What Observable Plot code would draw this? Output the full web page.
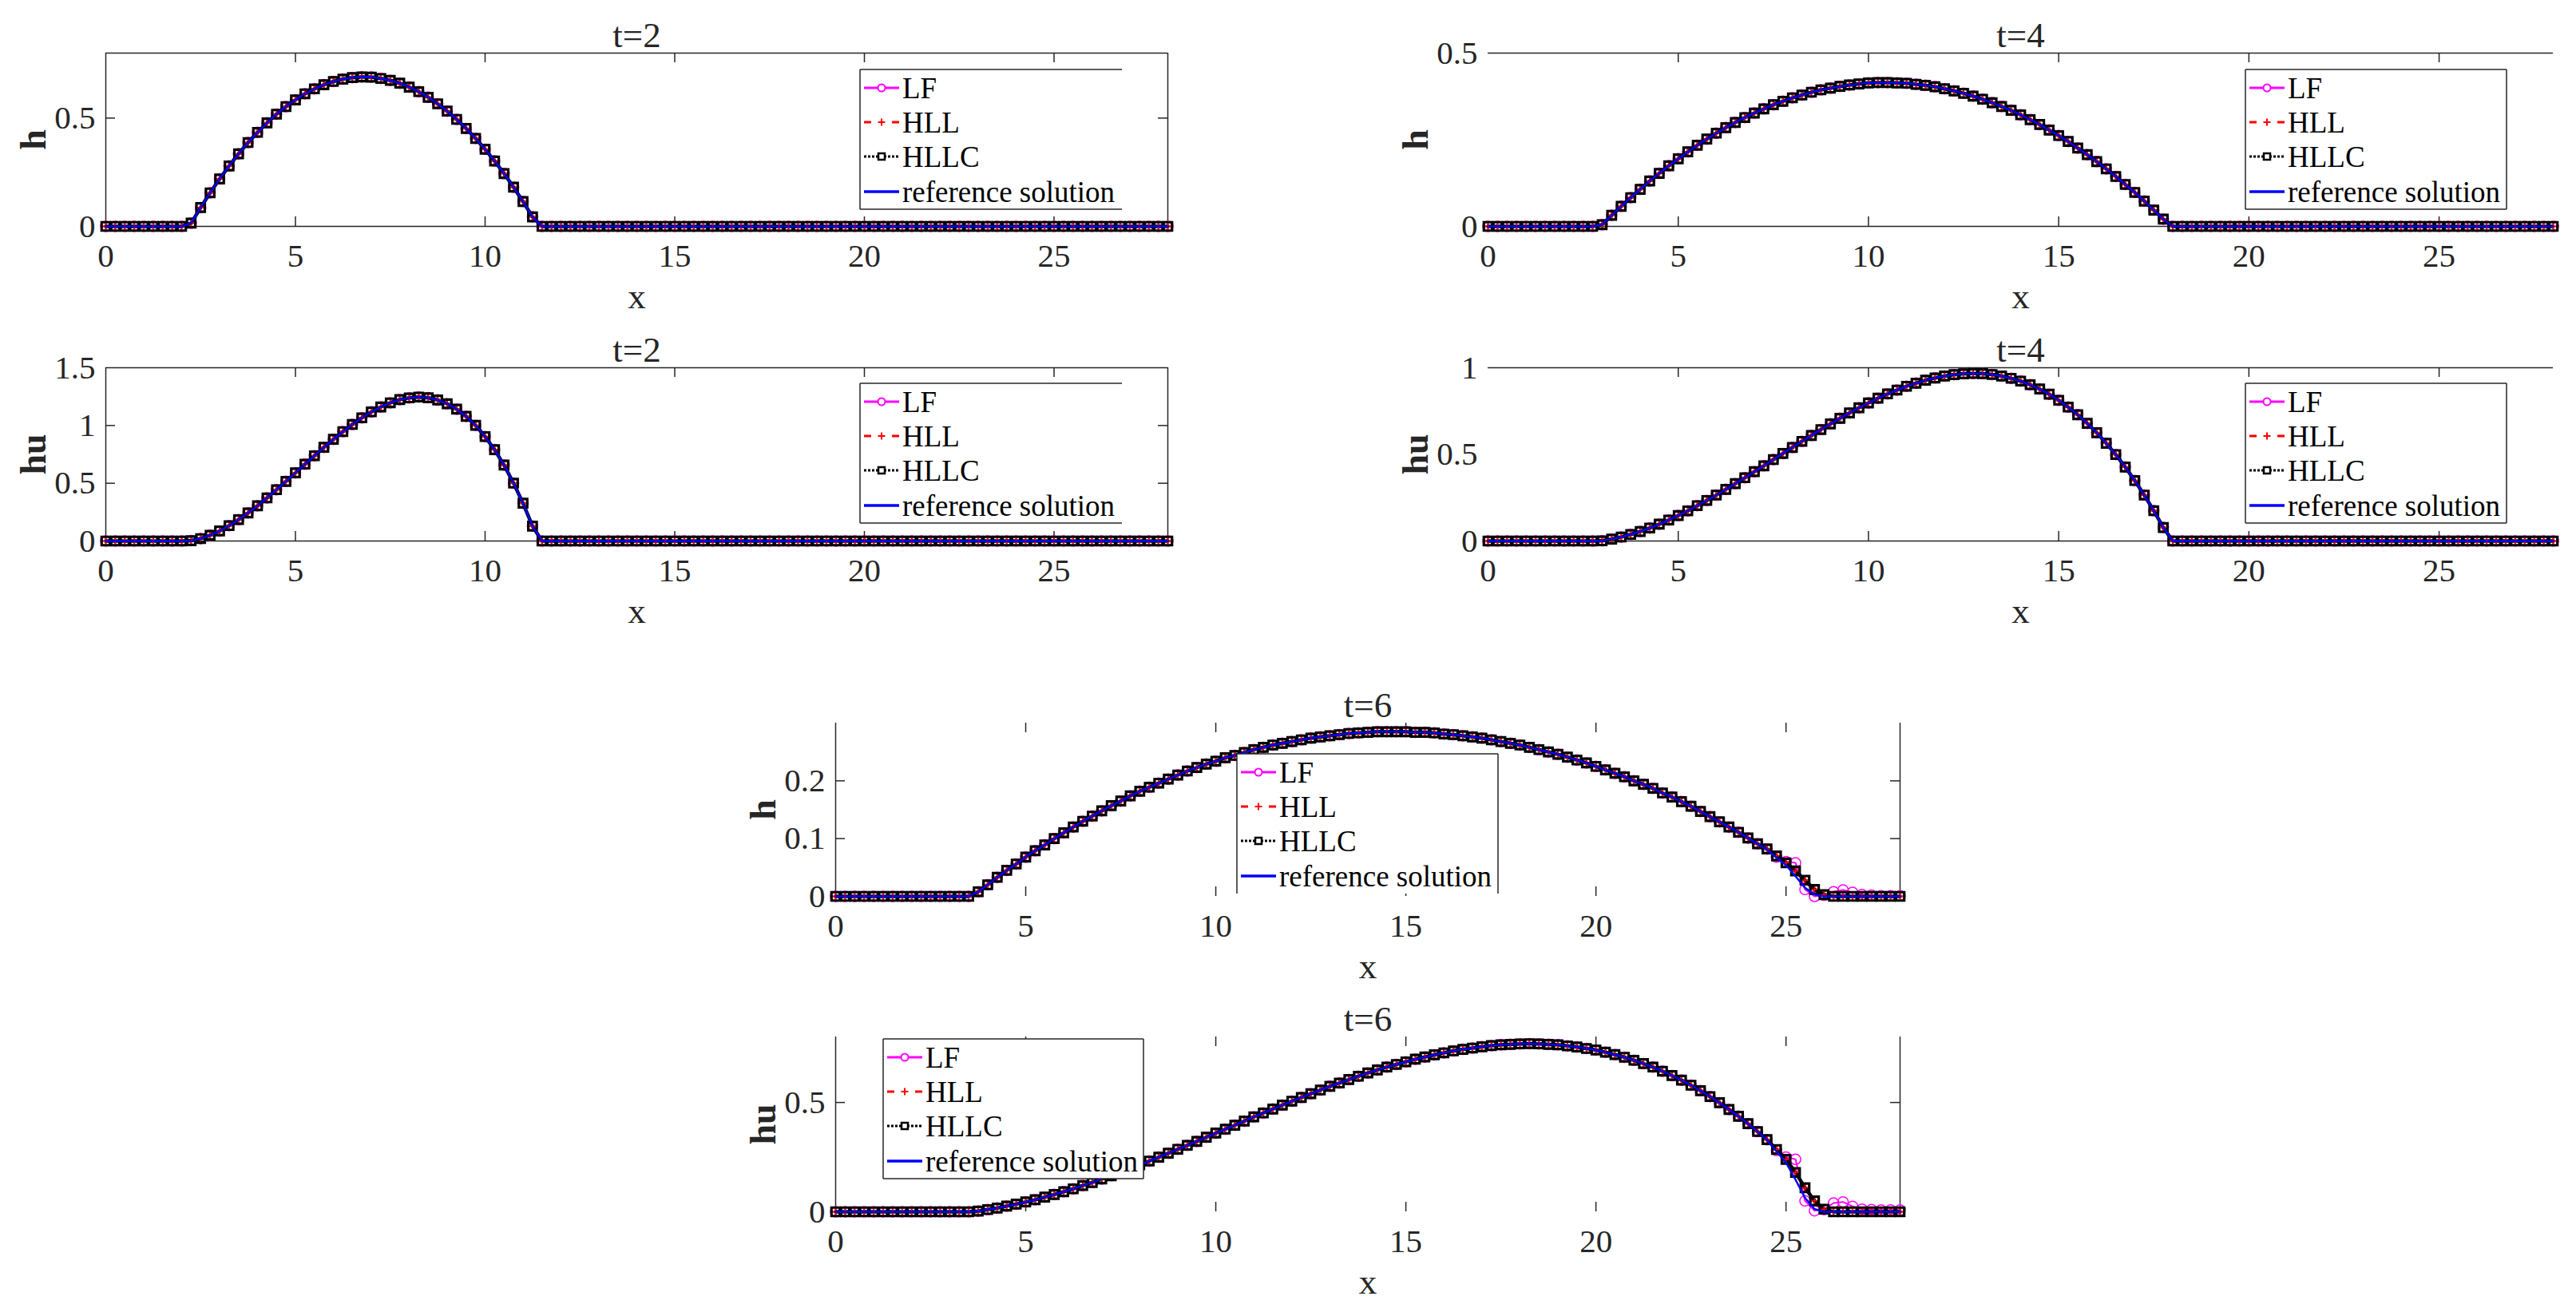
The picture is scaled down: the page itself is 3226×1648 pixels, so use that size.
<!DOCTYPE html>
<html>
<head>
<meta charset="utf-8">
<script src="https://cdn.jsdelivr.net/npm/d3@7"></script>
<script src="https://cdn.jsdelivr.net/npm/@observablehq/plot@0.6"></script>
<style>
  html, body { margin: 0; padding: 0; background: #fff; }
  body { width: 3226px; height: 1648px; overflow: hidden; }
  #fig { position: relative; width: 3226px; height: 1648px; }
  #fig svg { position: absolute; max-width: none; overflow: visible; }
  #fig svg, #fig svg text { font-family: "Liberation Serif", "Times New Roman", "DejaVu Serif", serif !important; }
</style>
</head>
<body>
<div id="fig"></div>
<script>
// ---------------- data ----------------
// uniform mesh, 0.25 spacing on [0, 28]
const xGrid = d3.range(0, 28.001, 0.25);
const xTickLabels = [0, 5, 10, 15, 20, 25];
const schemes = ["LF", "HLL", "HLLC", "reference solution"];

// h at t=2 (rows: x = k, k+.25, k+.5, k+.75)
const h_t2 = [
  0,0,0,0,            // 0
  0,0,0,0,            // 1
  0,.015,.087,.155,   // 2
  .219,.279,.335,.387,// 3
  .434,.478,.518,.553,// 4
  .584,.612,.635,.654,// 5
  .669,.680,.687,.690,// 6
  .689,.683,.674,.661,// 7
  .643,.622,.596,.566,// 8
  .532,.494,.452,.406,// 9
  .356,.302,.244,.181,// 10
  .115,.044,0,0,      // 11
  0,0,0,0, 0,0,0,0, 0,0,0,0, 0,0,0,0,   // 12-15
  0,0,0,0, 0,0,0,0, 0,0,0,0, 0,0,0,0,   // 16-19
  0,0,0,0, 0,0,0,0, 0,0,0,0, 0,0,0,0,   // 20-23
  0,0,0,0, 0,0,0,0, 0,0,0,0, 0,0,0,0,   // 24-27
  0                   // 28
];
// hu at t=2
const hu_t2 = [
  0,0,0,0,
  0,0,0,0,
  0,.003,.021,.050,
  .087,.133,.185,.243,
  .305,.373,.444,.516,
  .590,.665,.738,.811,
  .880,.947,1.009,1.066,
  1.118,1.160,1.196,1.224,
  1.239,1.246,1.240,1.221,
  1.188,1.141,1.079,1.001,
  .904,.791,.657,.501,
  .327,.129,0,0,
  0,0,0,0, 0,0,0,0, 0,0,0,0, 0,0,0,0,
  0,0,0,0, 0,0,0,0, 0,0,0,0, 0,0,0,0,
  0,0,0,0, 0,0,0,0, 0,0,0,0, 0,0,0,0,
  0,0,0,0, 0,0,0,0, 0,0,0,0, 0,0,0,0,
  0
];
// h at t=4
const h_t4 = [
  0,0,0,0, 0,0,0,0, 0,0,0,0,           // 0-2
  .005,.032,.058,.083,                 // 3
  .107,.131,.153,.175,                 // 4
  .195,.215,.234,.252,                 // 5
  .269,.285,.300,.314,                 // 6
  .327,.339,.351,.361,                 // 7
  .371,.379,.387,.394,                 // 8
  .399,.404,.408,.411,                 // 9
  .414,.415,.415,.414,                 // 10
  .413,.410,.407,.403,                 // 11
  .397,.391,.384,.376,                 // 12
  .367,.357,.346,.335,                 // 13
  .322,.308,.294,.278,                 // 14
  .262,.245,.226,.207,                 // 15
  .187,.166,.144,.121,                 // 16
  .098,.073,.047,.021,                 // 17
  0,0,0,0, 0,0,0,0, 0,0,0,0, 0,0,0,0, 0,0,0,0,  // 18-22
  0,0,0,0, 0,0,0,0, 0,0,0,0, 0,0,0,0, 0,0,0,0,  // 23-27
  0
];
// hu at t=4
const hu_t4 = [
  0,0,0,0, 0,0,0,0, 0,0,0,0,
  .001,.011,.023,.038,
  .055,.075,.097,.121,
  .147,.174,.204,.234,
  .265,.298,.331,.365,
  .400,.434,.470,.505,
  .540,.575,.609,.643,
  .676,.708,.739,.769,
  .797,.824,.849,.871,
  .893,.911,.928,.941,
  .952,.960,.965,.967,
  .966,.961,.952,.939,
  .923,.902,.877,.847,
  .812,.773,.729,.679,
  .625,.564,.499,.427,
  .349,.265,.175,.078,
  0,0,0,0, 0,0,0,0, 0,0,0,0, 0,0,0,0, 0,0,0,0,
  0,0,0,0, 0,0,0,0, 0,0,0,0, 0,0,0,0, 0,0,0,0,
  0
];
// h at t=6 (reference solution)
const h_t6 = [
  0,0,0,0, 0,0,0,0, 0,0,0,0,           // 0-2
  0,0,0,.008,                          // 3
  .020,.033,.045,.056,                 // 4
  .068,.079,.089,.100,                 // 5
  .110,.120,.130,.139,                 // 6
  .148,.157,.165,.174,                 // 7
  .182,.189,.196,.203,                 // 8
  .210,.217,.223,.229,                 // 9
  .234,.240,.244,.249,                 // 10
  .254,.258,.262,.265,                 // 11
  .268,.271,.274,.276,                 // 12
  .278,.280,.282,.283,                 // 13
  .284,.285,.285,.285,                 // 14
  .285,.284,.284,.283,                 // 15
  .281,.280,.278,.276,                 // 16
  .274,.271,.268,.265,                 // 17
  .262,.258,.254,.250,                 // 18
  .246,.241,.236,.231,                 // 19
  .225,.219,.213,.207,                 // 20
  .200,.194,.187,.179,                 // 21
  .172,.164,.156,.147,                 // 22
  .138,.129,.120,.111,                 // 23
  .101,.091,.081,.067,                 // 24
  .054,.035,.015,.003,                 // 25
  0,0,0,0, 0,0,0,0,                    // 26-27
  0
];
// hu at t=6 (reference solution)
const hu_t6 = [
  0,0,0,0, 0,0,0,0, 0,0,0,0,
  0,0,0,.003,
  .010,.017,.026,.035,
  .045,.055,.067,.079,
  .092,.105,.120,.134,
  .150,.165,.182,.198,
  .215,.232,.250,.268,
  .286,.304,.322,.341,
  .360,.378,.396,.415,
  .434,.452,.470,.488,
  .506,.523,.540,.557,
  .574,.589,.605,.620,
  .635,.649,.662,.674,
  .686,.698,.708,.718,
  .727,.736,.743,.749,
  .755,.760,.764,.766,
  .768,.769,.768,.766,
  .764,.759,.754,.747,
  .740,.730,.719,.707,
  .693,.678,.662,.643,
  .623,.602,.579,.554,
  .527,.499,.468,.437,
  .403,.367,.329,.276,
  .225,.147,.064,.013,
  0,0,0,0, 0,0,0,0,
  0
];
// t=6 wet/dry front, x = 24.5 ... 28 (numerical schemes differ from the reference there)
const frontStart = 24.5;
const lf_h_t6_front   = [.082,.068,.060,.058,.012,.000,.002,.008,.011,.007,.003,.002,.001,.001,.001];
const hllc_h_t6_front = [.082,.070,.058,.044,.028,.012,.003,0,0,0,0,0,0,0,0];
const lf_hu_t6_front  = [.330,.280,.250,.240,.050,.005,.010,.040,.045,.025,.012,.010,.008,.008,.008];
const hllc_hu_t6_front= [.330,.285,.240,.180,.110,.050,.012,0,0,0,0,0,0,0,0];

// ---------------- layout ----------------
const ML = 130, MR = 30, MT = 60, MB = 120;
const FONT = "Liberation Serif, Times New Roman, DejaVu Serif, serif";
const INK = "#262626";
const COLORS = {LF: "#ff00ff", HLL: "#ff0000", HLLC: "#000000", ref: "#0000ff"};

const panels = [
  {L:132,  T:66,   W:1330, H:217, ymax:0.8, yTicks:[0,0.5],       title:"t=2", ylabel:"h",  ref:h_t2,
   spines:{top:1,bottom:1,left:1,right:1}, leg:{dx:945, dy:21, w:328, top:1,bottom:1,left:1,right:0}},
  {L:1863, T:66,   W:1334, H:217, ymax:0.5, yTicks:[0,0.5],       title:"t=4", ylabel:"h",  ref:h_t4,
   spines:{top:1,bottom:1,left:0,right:0}, leg:{dx:949, dy:21, w:327, top:1,bottom:1,left:1,right:1}},
  {L:132,  T:460,  W:1330, H:217, ymax:1.5, yTicks:[0,0.5,1,1.5], title:"t=2", ylabel:"hu", ref:hu_t2,
   spines:{top:1,bottom:1,left:1,right:1}, leg:{dx:945, dy:20, w:328, top:1,bottom:1,left:1,right:0}},
  {L:1863, T:460,  W:1334, H:217, ymax:1.0, yTicks:[0,0.5,1],     title:"t=4", ylabel:"hu", ref:hu_t4,
   spines:{top:1,bottom:1,left:0,right:0}, leg:{dx:949, dy:20, w:327, top:1,bottom:1,left:1,right:1}},
  {L:1046, T:905,  W:1333, H:217, ymax:0.3, yTicks:[0,0.1,0.2],   title:"t=6", ylabel:"h",  ref:h_t6,
   lfFront:lf_h_t6_front, numFront:hllc_h_t6_front,
   spines:{top:0,bottom:0,left:1,right:1}, leg:{dx:503, dy:39, w:327, top:1,bottom:0,left:1,right:1}},
  {L:1046, T:1298, W:1333, H:219, ymax:0.8, yTicks:[0,0.5],       title:"t=6", ylabel:"hu", ref:hu_t6,
   lfFront:lf_hu_t6_front, numFront:hllc_hu_t6_front,
   spines:{top:0,bottom:0,left:1,right:1}, leg:{dx:60, dy:3, w:326, top:1,bottom:1,left:1,right:1}}
];

function withFront(ref, front) {
  if (!front) return ref;
  const i0 = xGrid.indexOf(frontStart);
  return ref.map((v, i) => (i >= i0 ? front[i - i0] : v));
}

function rowsOf(values) {
  return xGrid.map((x, i) => ({x, y: values[i]}));
}

function drawLegend(svg, p) {
  const lg = p.leg, w = lg.w, hh = 175;
  const g = d3.select(svg).append("g")
    .attr("transform", `translate(${ML + lg.dx},${MT + lg.dy})`);
  g.append("rect").attr("width", w).attr("height", hh).attr("fill", "#fff");
  const edge = (x1, y1, x2, y2) => g.append("line")
    .attr("x1", x1).attr("y1", y1).attr("x2", x2).attr("y2", y2)
    .attr("stroke", INK).attr("stroke-width", 1.5);
  if (lg.top) edge(0, 0, w, 0);
  if (lg.bottom) edge(0, hh, w, hh);
  if (lg.left) edge(0, 0, 0, hh);
  if (lg.right) edge(w, 0, w, hh);
  const rowY = [23, 66, 109, 153];
  const x1 = 5, x2 = 49, xm = 27;
  // LF
  g.append("line").attr("x1", x1).attr("x2", x2).attr("y1", rowY[0]).attr("y2", rowY[0])
    .attr("stroke", COLORS.LF).attr("stroke-width", 3);
  g.append("circle").attr("cx", xm).attr("cy", rowY[0]).attr("r", 4.5)
    .attr("stroke", COLORS.LF).attr("stroke-width", 2).attr("fill", "#fff");
  // HLL
  g.append("line").attr("x1", x1).attr("x2", x2).attr("y1", rowY[1]).attr("y2", rowY[1])
    .attr("stroke", COLORS.HLL).attr("stroke-width", 3).attr("stroke-dasharray", "9,26");
  g.append("line").attr("x1", xm - 4.5).attr("x2", xm + 4.5).attr("y1", rowY[1]).attr("y2", rowY[1])
    .attr("stroke", COLORS.HLL).attr("stroke-width", 2);
  g.append("line").attr("x1", xm).attr("x2", xm).attr("y1", rowY[1] - 4.5).attr("y2", rowY[1] + 4.5)
    .attr("stroke", COLORS.HLL).attr("stroke-width", 2);
  // HLLC
  g.append("line").attr("x1", x1).attr("x2", x2).attr("y1", rowY[2]).attr("y2", rowY[2])
    .attr("stroke", COLORS.HLLC).attr("stroke-width", 3).attr("stroke-dasharray", "3,2");
  g.append("rect").attr("x", xm - 4).attr("y", rowY[2] - 4).attr("width", 8).attr("height", 8)
    .attr("stroke", COLORS.HLLC).attr("stroke-width", 2.5).attr("fill", "#fff");
  // reference
  g.append("line").attr("x1", x1).attr("x2", x2).attr("y1", rowY[3]).attr("y2", rowY[3])
    .attr("stroke", COLORS.ref).attr("stroke-width", 3.5);
  schemes.forEach((s, i) => {
    g.append("text").attr("x", 53).attr("y", rowY[i] + 13)
      .attr("text-anchor", "start")
      .attr("font-family", FONT).attr("font-size", 37).attr("fill", "#000").text(s);
  });
}

const fig = document.getElementById("fig");

panels.forEach(p => {
  const lf = rowsOf(withFront(p.ref, p.lfFront));
  const num = rowsOf(withFront(p.ref, p.numFront));
  const ref = rowsOf(p.ref);
  const tkY = p.ymax * 12 / p.H;     // 12 px inward tick length, in y units
  const tkX = 28 * 12 / p.W;         // 12 px inward tick length, in x units
  const xTickMarks = xTickLabels.filter(d => d > 0);
  const yInner = p.yTicks.filter(d => d > 0 && d < p.ymax);
  const lineStyle = {stroke: INK, strokeWidth: 1.5};

  const marks = [];
  // axes box
  if (p.spines.top) marks.push(Plot.ruleY([p.ymax], lineStyle));
  if (p.spines.bottom) marks.push(Plot.ruleY([0], lineStyle));
  if (p.spines.left) marks.push(Plot.ruleX([0], lineStyle));
  if (p.spines.right) marks.push(Plot.ruleX([28], lineStyle));
  // inward ticks
  marks.push(Plot.ruleX(xTickMarks, {x: d => d, y1: 0, y2: tkY, ...lineStyle}));
  marks.push(Plot.ruleX(xTickMarks, {x: d => d, y1: p.ymax - tkY, y2: p.ymax, ...lineStyle}));
  if (p.spines.left) marks.push(Plot.ruleY(yInner, {y: d => d, x1: 0, x2: tkX, ...lineStyle}));
  if (p.spines.right) marks.push(Plot.ruleY(yInner, {y: d => d, x1: 28 - tkX, x2: 28, ...lineStyle}));

  // LF
  marks.push(Plot.line(lf, {x: "x", y: "y", stroke: COLORS.LF, strokeWidth: 2}));
  marks.push(Plot.dot(lf, {x: "x", y: "y", symbol: "circle", r: 6.5, stroke: COLORS.LF, strokeWidth: 1.5, fill: "none"}));
  // HLL
  marks.push(Plot.line(num, {x: "x", y: "y", stroke: COLORS.HLL, strokeWidth: 2, strokeDasharray: "8,5"}));
  marks.push(Plot.dot(num, {x: "x", y: "y", symbol: "plus", r: 4, stroke: COLORS.HLL, strokeWidth: 2}));
  // HLLC
  marks.push(Plot.line(num, {x: "x", y: "y", stroke: COLORS.HLLC, strokeWidth: 4.5, strokeDasharray: "3,1.5"}));
  marks.push(Plot.dot(num, {x: "x", y: "y", symbol: "square", r: 5.9, stroke: COLORS.HLLC, strokeWidth: 3.2, fill: "none"}));
  // red plus drawn inside the hollow squares stays visible
  marks.push(Plot.dot(num, {x: "x", y: "y", symbol: "plus", r: 2.5, stroke: COLORS.HLL, strokeWidth: 1.5}));
  // reference
  marks.push(Plot.line(ref, {x: "x", y: "y", stroke: COLORS.ref, strokeWidth: 2.5}));

  // tick labels
  marks.push(Plot.axisX({ticks: xTickLabels, tickSize: 0, tickPadding: 21, tickFormat: d => String(d),
    label: null, fontSize: 41, fill: INK}));
  marks.push(Plot.axisY({ticks: p.yTicks, tickSize: 0, tickPadding: 13, tickFormat: d => String(d),
    label: null, fontSize: 41, fill: INK, anchor: "left"}));
  // title and axis labels
  marks.push(Plot.text([p.title], {text: d => d, frameAnchor: "top", dy: -8, lineAnchor: "bottom",
    fontSize: 45, fill: INK}));
  marks.push(Plot.text(["x"], {text: d => d, frameAnchor: "bottom", dy: 102, lineAnchor: "bottom",
    fontSize: 45, fill: INK}));
  marks.push(Plot.text([p.ylabel], {text: d => d, frameAnchor: "left", dx: -90, rotate: -90,
    lineAnchor: "middle", textAnchor: "middle", fontSize: 46, fontWeight: "bold", fill: INK}));

  const svg = Plot.plot({
    width: p.W + ML + MR,
    height: p.H + MT + MB,
    marginLeft: ML, marginRight: MR, marginTop: MT, marginBottom: MB,
    x: {domain: [0, 28]},
    y: {domain: [0, p.ymax]},
    style: {fontFamily: FONT, fontSize: "41px", color: INK, background: "transparent", overflow: "visible"},
    marks
  });
  svg.style.left = (p.L - ML) + "px";
  svg.style.top = (p.T - MT) + "px";
  fig.appendChild(svg);
  drawLegend(svg, p);
});
</script>
</body>
</html>
